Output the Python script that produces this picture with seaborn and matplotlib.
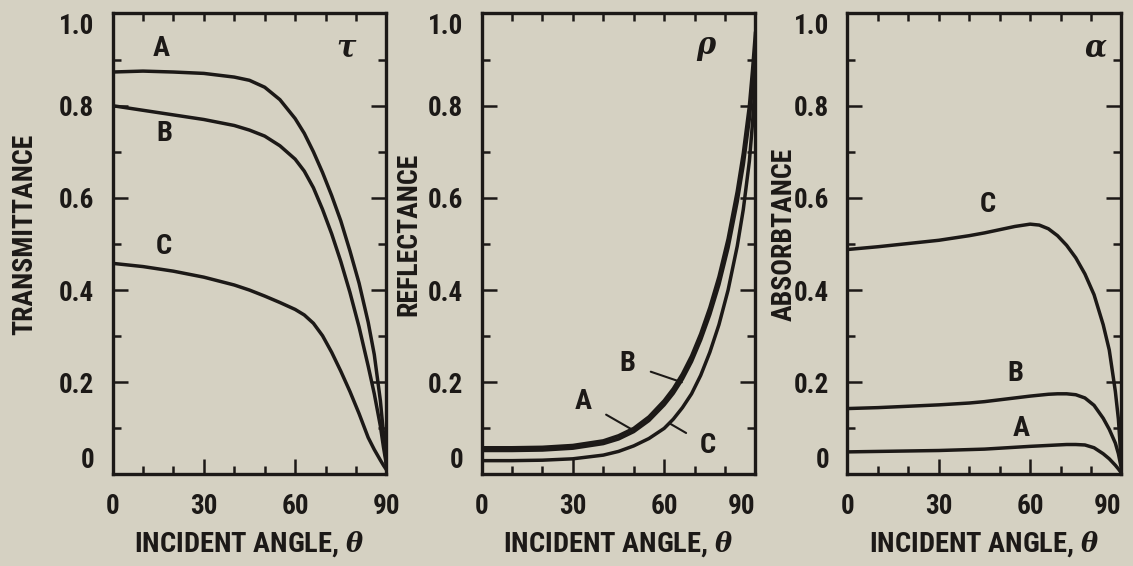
import numpy as np
import pandas as pd
import matplotlib
matplotlib.use('Agg')
import matplotlib.pyplot as plt
import seaborn as sns

# incident angle (deg) and curves
theta = [0, 10, 20, 30, 40, 45, 50, 55, 60, 63, 66, 69, 72, 75, 78, 81, 84, 86, 88, 89, 90]

tau_A = [0.873, 0.875, 0.873, 0.870, 0.862, 0.855, 0.840, 0.813, 0.772, 0.740, 0.700, 0.655, 0.605,
         0.550, 0.485, 0.415, 0.330, 0.260, 0.160, 0.090, 0.020]
tau_B = [0.800, 0.790, 0.780, 0.770, 0.757, 0.747, 0.734, 0.713, 0.684, 0.658, 0.622, 0.575, 0.522,
         0.462, 0.395, 0.320, 0.235, 0.175, 0.105, 0.060, 0.020]
tau_C = [0.458, 0.451, 0.441, 0.428, 0.411, 0.400, 0.387, 0.373, 0.358, 0.346, 0.328, 0.301, 0.265,
         0.224, 0.180, 0.132, 0.080, 0.054, 0.031, 0.020, 0.010]

rho_A = [0.052, 0.052, 0.053, 0.057, 0.067, 0.077, 0.093, 0.117, 0.151, 0.176, 0.207, 0.245, 0.292,
         0.347, 0.412, 0.492, 0.592, 0.672, 0.772, 0.842, 0.922]
rho_B = [0.058, 0.058, 0.059, 0.063, 0.073, 0.084, 0.100, 0.125, 0.160, 0.186, 0.218, 0.257, 0.305,
         0.362, 0.429, 0.511, 0.614, 0.697, 0.800, 0.875, 0.960]
rho_C = [0.030, 0.030, 0.031, 0.034, 0.042, 0.050, 0.062, 0.078, 0.100, 0.120, 0.145, 0.175, 0.215,
         0.265, 0.325, 0.400, 0.495, 0.575, 0.680, 0.760, 0.860]

alpha_A = [0.049, 0.050, 0.051, 0.052, 0.054, 0.055, 0.057, 0.059, 0.061, 0.062, 0.063, 0.064, 0.065,
           0.065, 0.064, 0.058, 0.045, 0.034, 0.020, 0.012, 0.003]
alpha_B = [0.143, 0.145, 0.148, 0.151, 0.155, 0.158, 0.162, 0.166, 0.170, 0.172, 0.174, 0.175, 0.175,
           0.173, 0.166, 0.150, 0.122, 0.098, 0.068, 0.045, 0.012]
alpha_C = [0.488, 0.494, 0.501, 0.508, 0.518, 0.524, 0.531, 0.538, 0.543, 0.541, 0.533, 0.518, 0.497,
           0.470, 0.435, 0.390, 0.325, 0.270, 0.180, 0.120, 0.020]

panels = [
    ('TRANSMITTANCE', r'$\tau$', {'A': tau_A, 'B': tau_B, 'C': tau_C}),
    ('REFLECTANCE', r'$\rho$', {'A': rho_A, 'B': rho_B, 'C': rho_C}),
    ('ABSORBTANCE', r'$\alpha$', {'A': alpha_A, 'B': alpha_B, 'C': alpha_C}),
]

bg = '#d5d1c2'
ink = '#1c1917'

sns.set_theme(style='ticks', rc={'figure.facecolor': bg, 'axes.facecolor': bg,
                                 'axes.edgecolor': ink, 'text.color': ink,
                                 'xtick.color': ink, 'ytick.color': ink,
                                 'axes.labelcolor': ink})
plt.rcParams['font.family'] = ['Roboto Condensed', 'DejaVu Sans']
plt.rcParams['font.stretch'] = 'condensed'
plt.rcParams['font.weight'] = 'bold'
plt.rcParams['mathtext.fontset'] = 'dejavuserif'

fig = plt.figure(figsize=(11.33, 5.66), dpi=100)
lefts = [0.0993, 0.425, 0.748]
ylab_x = [-0.319, -0.265, -0.232]
sym_x = [77, 74, 81.5]

axes = []
for i, (ylab, sym, curves) in enumerate(panels):
    ax = fig.add_axes([lefts[i], 0.1617, 0.2418, 0.8145])
    df = pd.DataFrame({'theta': theta * 3,
                       'value': curves['A'] + curves['B'] + curves['C'],
                       'curve': ['A'] * len(theta) + ['B'] * len(theta) + ['C'] * len(theta)})
    sns.lineplot(data=df, x='theta', y='value', units='curve', estimator=None,
                 color=ink, lw=2.5, ax=ax)
    ax.set_xlim(0, 90)
    ax.set_ylim(0, 1.0)
    ax.set_xticks([0, 30, 60, 90])
    ax.set_xticks(range(10, 90, 10), minor=True)
    ax.set_yticks([0, 0.2, 0.4, 0.6, 0.8, 1.0])
    ax.set_yticklabels(['0', '0.2', '0.4', '0.6', '0.8', '1.0'])
    ax.set_yticks([0.1, 0.3, 0.5, 0.7, 0.9], minor=True)
    ax.tick_params(which='both', direction='in', right=True, top=False,
                   width=1.8, labelsize=19.5, pad=13)
    ax.tick_params(which='major', length=10.5)
    ax.tick_params(which='minor', length=5.5)
    ylabels = ax.get_yticklabels()
    ylabels[0].set_va('bottom')
    ylabels[-1].set_va('top')
    if i > 0:
        ax.get_xticklabels()[-1].set_ha('right')
    top = ax.secondary_xaxis('top')
    top.set_xticks(range(10, 90, 10))
    top.tick_params(direction='in', length=5.5, width=1.8, labeltop=False)
    top.spines['top'].set_visible(False)
    for s in ax.spines.values():
        s.set_linewidth(2.4)
    ax.set_xlabel(r'INCIDENT ANGLE, $\theta$', fontsize=20.5, fontweight='bold', labelpad=7)
    ax.set_ylabel(ylab, fontsize=20, fontweight='bold', va='center')
    ax.yaxis.set_label_coords(ylab_x[i], 0.52)
    ax.text(sym_x[i], 0.925, sym, fontsize=23, ha='center', va='center')
    axes.append(ax)

# curve labels
ax1, ax2, ax3 = axes
for lab, x, y in [('A', 16, 0.925), ('B', 17, 0.74), ('C', 17, 0.495)]:
    ax1.text(x, y, lab, fontsize=20.5, fontweight='bold', ha='center', va='center')

ax2.annotate('B', xy=(65.8, 0.2), xytext=(48, 0.24), fontsize=20.5, fontweight='bold',
             ha='center', va='center',
             arrowprops=dict(arrowstyle='-', color=ink, lw=1.5, shrinkA=9, shrinkB=0))
ax2.annotate('A', xy=(49.3, 0.098), xytext=(33.5, 0.158), fontsize=20.5, fontweight='bold',
             ha='center', va='center',
             arrowprops=dict(arrowstyle='-', color=ink, lw=1.5, shrinkA=9, shrinkB=0))
ax2.annotate('C', xy=(62, 0.11), xytext=(74.5, 0.062), fontsize=20.5, fontweight='bold',
             ha='center', va='center',
             arrowprops=dict(arrowstyle='-', color=ink, lw=1.5, shrinkA=9, shrinkB=0))

for lab, x, y in [('C', 46, 0.585), ('B', 55.3, 0.22), ('A', 57, 0.10)]:
    ax3.text(x, y, lab, fontsize=20.5, fontweight='bold', ha='center', va='center')

fig.savefig('out.png', dpi=100, facecolor=bg)
